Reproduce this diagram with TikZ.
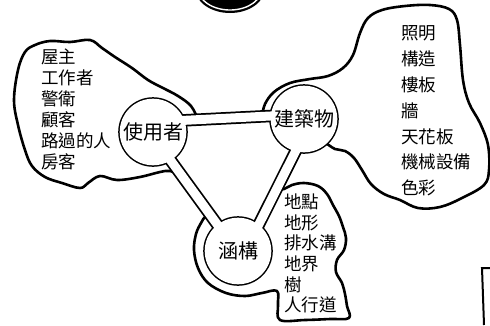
\documentclass[tikz,border=0pt]{standalone}
\usepackage{fontspec}
\newfontfamily\cjk{Noto Sans CJK TC}
\usetikzlibrary{backgrounds}

\begin{document}
\begin{tikzpicture}[
            x=1pt, y=-1pt,
            font=\cjk,
            % Styles
            hub/.style={
                circle, inner sep=0pt, minimum size=68pt, font=\cjk\fontsize{20}{20}\selectfont
            },
            itemlist/.style={
                align=left, inner sep=0pt, anchor=base west, font=\cjk\fontsize{17.5}{21}\selectfont
            },
            blob/.style={
                draw=black, fill=white, line width=2.6pt, line join=round
            },
            tubewall/.style={
                black, line width=12.5pt, shorten <=-6pt, shorten >=-6pt
            },
            tubeinside/.style={
                white, line width=9pt, shorten <=-6pt, shorten >=-6pt
            }
        ]
            \useasboundingbox (0,0) rectangle (490,325);

            % --- Nodes ---

            % 1. The three hubs
            \node[hub] (user) at (153,132) {使用者};
            \node[hub] (bldg) at (304,119) {建築物};
            \node[hub] (ctx) at (238,251) {涵構};

            % 2. Lists (placed by the baseline of their last line)
            \node[itemlist] (people) at (41,168.6) {屋主\\工作者\\警衛\\顧客\\路過的人\\房客};
            \node[itemlist, font=\cjk\fontsize{17.5}{25.8}\selectfont] (parts) at (401,194.6) {照明\\構造\\樓板\\牆\\天花板\\機械設備\\色彩};
            \node[itemlist, font=\cjk\fontsize{17.5}{20.6}\selectfont] (site) at (284,311.6) {地點\\地形\\排水溝\\地界\\樹\\人行道};

            \begin{scope}[on background layer]
                % --- Blobs ---
                \draw[blob] plot[smooth, tension=0.6] coordinates {
                    (198,119.5) (191,106) (178,96) (163,88) (148,80) (132,68) (115,57) (102,48)
                    (90,40) (70,42) (50,41) (35,45) (25,52) (18,70) (14,100) (18,125) (25,150)
                    (32,166) (45,177) (62,183) (80,188) (88,183) (100,176) (117,180) (140,177)
                    (160,172) (170,171) (180,175)} -- (user.center) -- cycle;
                \draw[blob] plot[smooth, tension=0.6] coordinates {
                    (262,116.4) (265,104) (274,92) (290,83) (310,79) (328,76) (343,68) (353,55)
                    (360,33) (368,18) (382,10) (405,6) (430,5) (449,9) (457,20) (460,45) (463,80)
                    (469,103) (480,123) (488,145) (489,170) (484,185) (462,198) (440,207)
                    (418,208) (400,200) (384,194) (371,184) (362,170) (354,158) (345,151)
                    (335,149) (326,143)} -- (bldg.center) -- cycle;
                \draw[blob] plot[smooth, tension=0.6] coordinates {
                    (276,190) (284,189) (292,185) (304,183) (318,186) (327,194) (333,205)
                    (339,216) (343,227) (346,238) (344,250) (337,260) (336,272) (342,283)
                    (345,294) (347,306) (349,318) (330,319) (305,320) (280,320) (278,305)
                    (277,291) (262,293) (245,296) (226,293) (208,283) (198,268) (194,250)
                    (196,234) (201,223) (206,216) (212,217)} -- (ctx.center) -- (ctx.52) -- cycle;

                % --- Tubes and rings ---
                \foreach \hubname in {user,bldg,ctx}
                    \fill (\hubname.center) circle (34.8);
                \draw[tubewall] (user.20) -- (bldg.175);
                \draw[tubewall] (user.-58) -- (ctx.128);
                \draw[tubewall] (bldg.-105) -- (ctx.52);
                \foreach \hubname in {user,bldg,ctx}
                    \fill[white] (\hubname.center) circle (33.3);
                \draw[tubeinside] (user.20) -- (bldg.175);
                \draw[tubeinside] (user.-58) -- (ctx.128);
                \draw[tubeinside] (bldg.-105) -- (ctx.52);
            \end{scope}

            % --- Odd bits at the edges ---
            \fill (230,-12) ellipse [x radius=35, y radius=25];
            \draw[white, line width=1.4pt] (230,-12) ++(20:32 and 22) arc[start angle=20, end angle=160, x radius=32, y radius=22];
            \draw[line width=2pt] (490,268) -- (482,268) -- (484,325);

        \end{tikzpicture}
\end{document}
